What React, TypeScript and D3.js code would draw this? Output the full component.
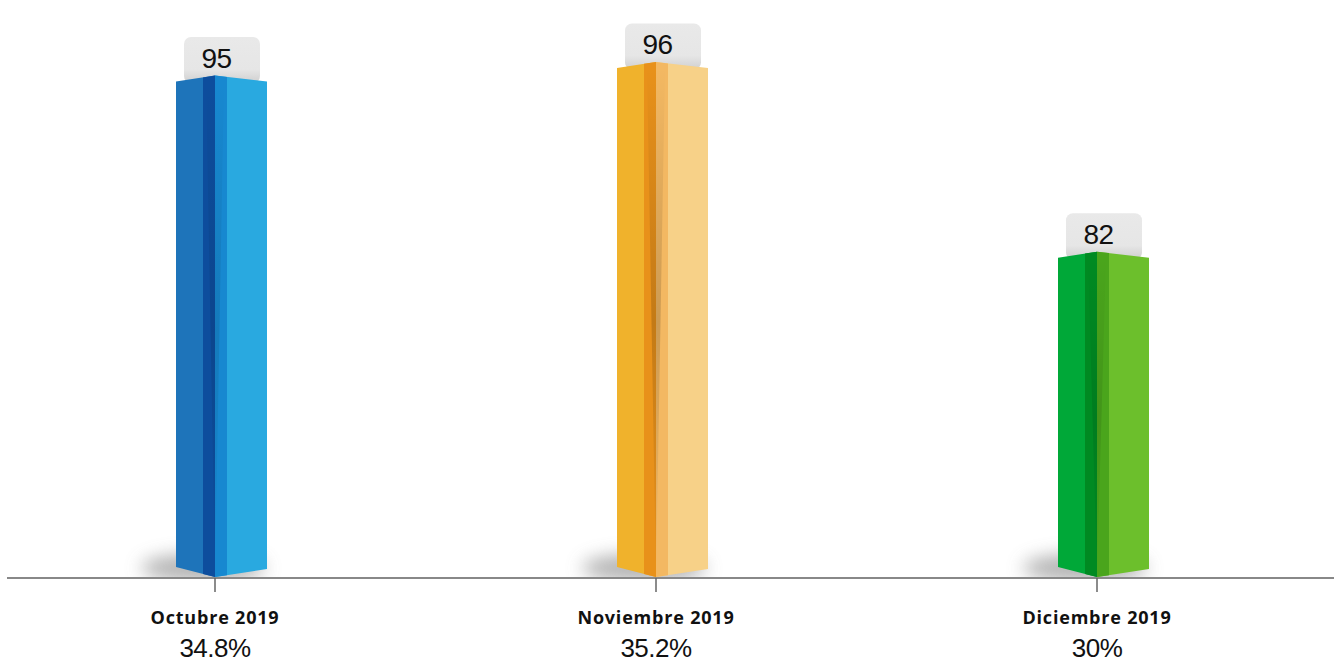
import { useEffect, useRef } from 'react'
import * as d3 from 'd3'

const MONTHS = ['Octubre 2019', 'Noviembre 2019', 'Diciembre 2019']
const COUNTS = [95, 96, 82]
const SHARES = [34.8, 35.2, 30]

// face colours: left, dark strip, middle strip, right
const PALETTE = [
  ['#1e74ba', '#0d4d9d', '#1788d0', '#29a9e0'],
  ['#f0b22c', '#e8911a', '#f3b862', '#f7d188'],
  ['#00a838', '#008a22', '#4aa51c', '#6cbf2c'],
]

const W = 1336
const H = 663
const BASE = 578

export default function App() {
  const svgRef = useRef<SVGSVGElement>(null)

  useEffect(() => {
    if (!svgRef.current) return
    const svg = d3.select(svgRef.current)
    svg.selectAll('*').remove()

    const x = d3.scalePoint<string>().domain(MONTHS).range([215, 1097])
    const y = d3.scaleLinear().domain([58, 96]).range([BASE - 1, 62])
    const fmt = (v: number) => `${d3.format('~f')(v)}%`

    const defs = svg.append('defs')
    defs.append('filter').attr('id', 'blur').attr('x', '-50%').attr('y', '-100%')
      .attr('width', '200%').attr('height', '300%')
      .append('feGaussianBlur').attr('stdDeviation', 9)
    const box = defs.append('linearGradient').attr('id', 'box').attr('x1', 0).attr('x2', 0).attr('y1', 0).attr('y2', 1)
    box.append('stop').attr('offset', '0%').attr('stop-color', '#e9e9e9')
    box.append('stop').attr('offset', '70%').attr('stop-color', '#e6e6e6')
    box.append('stop').attr('offset', '100%').attr('stop-color', '#cfcfcf')
    const spine = defs.append('linearGradient').attr('id', 'spine').attr('x1', 0).attr('x2', 0).attr('y1', 0).attr('y2', 1)
    spine.append('stop').attr('offset', '0%').attr('stop-color', '#000').attr('stop-opacity', 0)
    spine.append('stop').attr('offset', '50%').attr('stop-color', '#000').attr('stop-opacity', 1)
    spine.append('stop').attr('offset', '100%').attr('stop-color', '#000').attr('stop-opacity', 0)
    defs.append('clipPath').attr('id', 'above').append('rect')
      .attr('x', 0).attr('y', 0).attr('width', W).attr('height', BASE)

    // floor shadows
    svg.append('g').attr('clip-path', 'url(#above)')
      .selectAll('ellipse').data(MONTHS).join('ellipse')
      .attr('cx', (d) => x(d)! - 12).attr('cy', BASE - 10)
      .attr('rx', 62).attr('ry', 14).attr('fill', '#9a9a9a').attr('opacity', 0.75)
      .attr('filter', 'url(#blur)')

    // axis line
    svg.append('line').attr('x1', 7).attr('x2', 1334).attr('y1', BASE).attr('y2', BASE)
      .attr('stroke', '#888').attr('stroke-width', 2)

    const bars = svg.append('g').selectAll('g').data(MONTHS).join('g')

    bars.each(function (m, i) {
      const g = d3.select(this)
      const R = x(m)!
      const top = y(COUNTS[i])
      const [cL, cD, cM, cR] = PALETTE[i]
      const lx = R - 39, dx = R - 12, mx = R + 12, rx = R + 52
      const lt = top + 6, rt = top + 6
      const lb = BASE - 11, rb = BASE - 9
      const ty = (xx: number) => xx <= R ? top + (R - xx) / (R - lx) * (lt - top) : top + (xx - R) / (rx - R) * (rt - top)
      const by = (xx: number) => xx <= R ? BASE - 1 - (R - xx) / (R - lx) * (BASE - 1 - lb) : BASE - 1 - (xx - R) / (rx - R) * (BASE - 1 - rb)
      const poly = (x0: number, x1: number) =>
        [[x0, ty(x0)], [x1, ty(x1)], [x1, by(x1)], [x0, by(x0)]].map((p) => p.join(',')).join(' ')

      // value box
      g.append('rect').attr('x', R - 31).attr('y', top - 38.5).attr('width', 76).attr('height', 46)
        .attr('rx', 7).attr('fill', 'url(#box)')
      g.append('text').attr('x', R + 1.5).attr('y', top - 8).attr('text-anchor', 'middle')
        .attr('font-family', '"Liberation Sans", Arial, sans-serif').attr('font-size', 28)
        .attr('fill', '#111').attr('letter-spacing', -0.5).text(COUNTS[i])

      g.append('polygon').attr('points', poly(lx, R)).attr('fill', cL)
      g.append('polygon').attr('points', poly(dx, R)).attr('fill', cD)
      g.append('polygon').attr('points', poly(R, rx)).attr('fill', cR)
      g.append('polygon').attr('points', poly(R, mx)).attr('fill', cM)
      // soft tapering shade down the spine
      g.append('polygon')
        .attr('points', [[R - 9, ty(R - 9) + 4], [R + 9, ty(R + 9) + 4], [R, BASE - 1]].map((p) => p.join(',')).join(' '))
        .attr('fill', 'url(#spine)').attr('opacity', i === 1 ? 0.16 : 0.1)

      // tick
      g.append('line').attr('x1', R).attr('x2', R).attr('y1', BASE).attr('y2', 592)
        .attr('stroke', '#666').attr('stroke-width', 1.5)

      g.append('text').attr('x', R).attr('y', 624).attr('text-anchor', 'middle')
        .attr('font-family', '"Open Sans", sans-serif').attr('font-weight', 700)
        .attr('font-size', 18).attr('letter-spacing', 0.8).attr('fill', '#111').text(m)
      g.append('text').attr('x', R).attr('y', 657).attr('text-anchor', 'middle')
        .attr('font-family', '"Liberation Sans", Arial, sans-serif').attr('font-size', 26)
        .attr('fill', '#111').attr('letter-spacing', -0.5).text(fmt(SHARES[i]))
    })
  }, [])

  return (
    <svg ref={svgRef} width={W} height={H} viewBox={`0 0 ${W} ${H}`}
      style={{ position: 'absolute', left: 0, top: 0, background: '#fff', display: 'block' }} />
  )
}
